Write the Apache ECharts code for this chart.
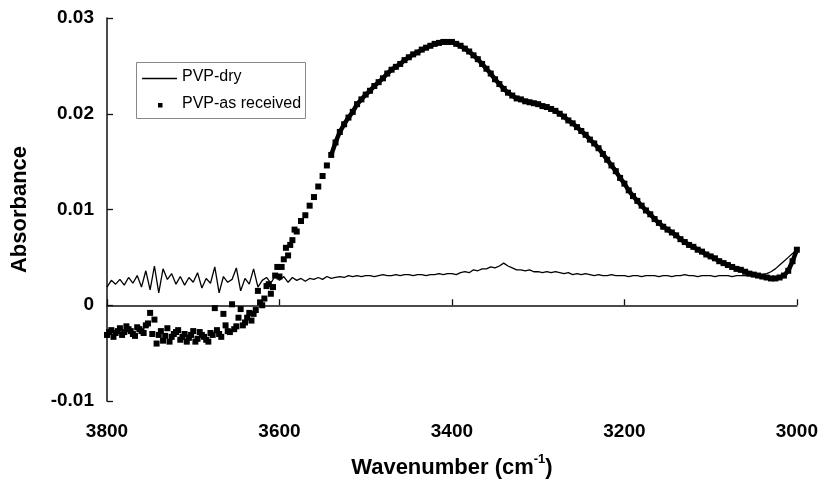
<!DOCTYPE html>
<html>
<head>
<meta charset="utf-8">
<script src="https://cdn.jsdelivr.net/npm/echarts@6/dist/echarts.min.js"></script>
<style>
html,body{margin:0;padding:0;background:#fff;}
#chart{width:821px;height:486px;}
</style>
</head>
<body>
<div id="chart"></div>
<script>
// Wavenumber sampling (cm-1), rows of 10
const wavenumber = [
  3800,3795,3790,3785,3780,3775,3770,3765,3760,3755,
  3750,3745,3740,3735,3730,3725,3720,3715,3710,3705,
  3700,3695,3690,3685,3680,3675,3670,3665,3660,3655,
  3650,3645,3640,3635,3630,3625,3620,3615,3610,3605,
  3600,3595,3590,3585,3580,3575,3570,3565,3560,3555,
  3550,3545,3540,3535,3530,3525,3520,3515,3510,3505,
  3500,3495,3490,3485,3480,3475,3470,3465,3460,3455,
  3450,3445,3440,3435,3430,3425,3420,3415,3410,3405,
  3400,3395,3390,3385,3380,3375,3370,3365,3360,3355,
  3350,3345,3340,3335,3330,3325,3320,3315,3310,3305,
  3300,3295,3290,3285,3280,3275,3270,3265,3260,3255,
  3250,3245,3240,3235,3230,3225,3220,3215,3210,3205,
  3200,3195,3190,3185,3180,3175,3170,3165,3160,3155,
  3150,3145,3140,3135,3130,3125,3120,3115,3110,3105,
  3100,3095,3090,3085,3080,3075,3070,3065,3060,3055,
  3050,3045,3040,3035,3030,3025,3020,3015,3010,3005,
  3000
];

// PVP-dry absorbance (thin line)
const pvpDry = [
  0.0019,0.0026,0.0022,0.0027,0.0021,0.0029,0.0023,0.0031,0.0019,0.0036,
  0.0016,0.0041,0.0013,0.0038,0.0027,0.0033,0.0022,0.0030,0.0021,0.0029,
  0.0024,0.0034,0.0018,0.0028,0.0023,0.0040,0.0013,0.0030,0.0024,0.0027,
  0.0039,0.0015,0.0028,0.0022,0.0038,0.0019,0.0026,0.0029,0.0023,0.0031,
  0.0026,0.0030,0.0024,0.0029,0.0026,0.0028,0.0025,0.0028,0.0027,0.0029,
  0.0027,0.0030,0.0028,0.0029,0.0030,0.0029,0.0031,0.0030,0.0031,0.0030,
  0.0031,0.0031,0.0030,0.0031,0.0032,0.0031,0.0031,0.0032,0.0031,0.0032,
  0.0032,0.0031,0.0032,0.0032,0.0031,0.0032,0.0032,0.0033,0.0032,0.0033,
  0.0033,0.0032,0.0034,0.0035,0.0034,0.0037,0.0036,0.0038,0.0038,0.0040,
  0.0039,0.0041,0.0044,0.0041,0.0039,0.0037,0.0037,0.0036,0.0037,0.0035,
  0.0035,0.0034,0.0035,0.0034,0.0035,0.0034,0.0033,0.0034,0.0032,0.0033,
  0.0032,0.0033,0.0032,0.0031,0.0032,0.0031,0.0031,0.0032,0.0031,0.0031,
  0.0031,0.0030,0.0031,0.0031,0.0030,0.0031,0.0031,0.0031,0.0030,0.0031,
  0.0031,0.0030,0.0031,0.0031,0.0032,0.0031,0.0031,0.0030,0.0031,0.0031,
  0.0031,0.0030,0.0031,0.0031,0.0031,0.0030,0.0031,0.0031,0.0031,0.0031,
  0.0031,0.0031,0.0032,0.0033,0.0035,0.0038,0.0042,0.0046,0.0050,0.0054,
  0.0058
];

// PVP-as received absorbance (square markers) on the main sampling
const pvpReceived = [
  -0.0031,-0.0026,-0.0029,-0.0024,-0.0028,-0.0025,-0.0030,-0.0023,-0.0027,-0.0021,
  -0.0008,-0.0015,-0.0031,-0.0037,-0.0024,-0.0033,-0.0028,-0.0036,-0.0030,-0.0034,
  -0.0027,-0.0035,-0.0031,-0.0036,-0.0029,-0.0003,-0.0030,-0.0009,-0.0027,0.0001,
  -0.0022,-0.0004,-0.0018,-0.0008,-0.0009,0.0015,0.0000,0.0020,0.0012,0.0031,
  0.0030,0.0048,0.0052,0.0068,0.0077,0.0088,0.0094,0.0104,0.0113,0.0124,
  0.0135,0.0146,0.0157,0.0170,0.0181,0.0189,0.0196,0.0202,0.0210,0.0215,
  0.0220,0.0224,0.0229,0.0233,0.0237,0.0242,0.0246,0.0249,0.0252,0.0256,
  0.0259,0.0262,0.0264,0.0267,0.0269,0.0271,0.0273,0.0274,0.0275,0.0275,
  0.0275,0.0273,0.0271,0.0268,0.0265,0.0261,0.0257,0.0252,0.0247,0.0242,
  0.0236,0.0231,0.0226,0.0222,0.0219,0.0216,0.0215,0.0213,0.0212,0.0211,
  0.0210,0.0208,0.0207,0.0205,0.0203,0.0200,0.0197,0.0193,0.0190,0.0186,
  0.0182,0.0178,0.0173,0.0169,0.0164,0.0158,0.0152,0.0146,0.0140,0.0133,
  0.0127,0.0120,0.0114,0.0109,0.0104,0.0099,0.0095,0.0090,0.0086,0.0082,
  0.0079,0.0076,0.0073,0.0069,0.0066,0.0063,0.0061,0.0058,0.0056,0.0053,
  0.0051,0.0049,0.0046,0.0044,0.0042,0.0040,0.0038,0.0037,0.0035,0.0033,
  0.0032,0.0031,0.0030,0.0029,0.0028,0.0028,0.0029,0.0031,0.0036,0.0046,
  0.0058
];

// Additional PVP-as received points in the noisy high-wavenumber region
const wavenumberExtra = [
  3797.5,3792.5,3787.5,3782.5,3777.5,3772.5,3767.5,3762.5,3757.5,3752.5,
  3747.5,3742.5,3737.5,3732.5,3727.5,3722.5,3717.5,3712.5,3707.5,3702.5,
  3697.5,3692.5,3687.5,3682.5,3677.5,3672.5,3667.5,3662.5,3657.5,3652.5,
  3647.5,3642.5,3637.5,3632.5,3627.5,3622.5,3617.5,3612.5,3607.5,3602.5,
  3597.5,3592.5,3587.5,3582.5
];
const pvpReceivedExtra = [
  -0.0028,-0.0033,-0.0027,-0.0031,-0.0022,-0.0027,-0.0032,-0.0025,-0.0029,-0.0019,
  -0.0030,-0.0040,-0.0027,-0.0032,-0.0038,-0.0030,-0.0026,-0.0033,-0.0038,-0.0031,
  -0.0038,-0.0028,-0.0033,-0.0038,-0.0031,-0.0026,-0.0033,-0.0021,-0.0028,-0.0025,
  -0.0013,-0.0021,-0.0013,-0.0016,-0.0005,0.0003,0.0007,0.0022,0.0019,0.0040,
  0.0040,0.0060,0.0063,0.0079
];

const seriesNames = ['PVP-dry', 'PVP-as received'];
const xTitle = 'Wavenumber (cm';
const xTitleSup = '-1';
const yTitle = 'Absorbance';

const FONT = '"Liberation Sans", Arial, sans-serif';
const pairs = (xs, ys) => xs.map((w, i) => [w, ys[i]]);
// index in wavenumber[] where the densely overlapping (smooth) marker run begins: 3540 cm-1
const smoothStart = wavenumber.indexOf(3540);

const chart = echarts.init(document.getElementById('chart'), null, {renderer: 'canvas'});
chart.setOption({
  backgroundColor: '#ffffff',
  animation: false,
  grid: {left: 107, right: 24, top: 18, bottom: 85},
  xAxis: {
    type: 'value', inverse: true, min: 3000, max: 3800, interval: 200,
    axisLine: {show: true, lineStyle: {color: '#111', width: 1.5}},
    axisTick: {show: true, inside: true, length: 6, lineStyle: {color: '#111', width: 1.3}},
    splitLine: {show: false},
    axisLabel: {color: '#000', fontFamily: FONT, fontWeight: 'bold', fontSize: 19, margin: 21,
      formatter: (v) => String(v)},
    name: '{a|' + xTitle + '}{s|' + xTitleSup + '}{a|)}',
    nameLocation: 'middle', nameGap: 52, nameMoveOverlap: false,
    nameTextStyle: {
      rich: {
        a: {fontFamily: FONT, fontWeight: 'bold', fontSize: 22, color: '#000', verticalAlign: 'bottom', lineHeight: 26},
        s: {fontFamily: FONT, fontWeight: 'bold', fontSize: 13, color: '#000', verticalAlign: 'top', lineHeight: 26, padding: [0, 0, 10, 0]}
      }
    }
  },
  yAxis: {
    type: 'value', min: -0.01, max: 0.03, interval: 0.01,
    axisLine: {show: true, lineStyle: {color: '#111', width: 1.5}},
    axisTick: {show: true, inside: true, length: 6, lineStyle: {color: '#111', width: 1.3}},
    splitLine: {show: false},
    axisLabel: {
      color: '#000', fontFamily: FONT, fontWeight: 'bold', fontSize: 19, margin: 13,
      formatter: (v) => String(+v.toFixed(2))
    },
    name: yTitle, nameLocation: 'middle', nameGap: 76, nameRotate: 90, nameMoveOverlap: false,
    nameTextStyle: {fontFamily: FONT, fontWeight: 'bold', fontSize: 22, color: '#000'}
  },
  series: [
    {
      name: seriesNames[1], type: 'scatter',
      data: pairs(wavenumber, pvpReceived).concat(pairs(wavenumberExtra, pvpReceivedExtra)),
      symbol: 'rect', symbolSize: 6, itemStyle: {color: '#000', opacity: 1}, z: 2
    },
    {
      // the overlapping markers of the smooth part merge into a continuous thick trace
      name: seriesNames[1], type: 'line',
      data: pairs(wavenumber, pvpReceived).slice(smoothStart),
      showSymbol: false, symbol: 'none', smooth: false,
      lineStyle: {color: '#000', width: 4.5}, z: 2
    },
    {
      name: seriesNames[0], type: 'line', data: pairs(wavenumber, pvpDry),
      showSymbol: false, symbol: 'none',
      lineStyle: {color: '#000', width: 1.3}, z: 3
    }
  ],
  graphic: [
    {type: 'rect', left: 136, top: 62, shape: {width: 169, height: 56},
     style: {fill: '#fff', stroke: '#888', lineWidth: 1}, z: 10},
    {type: 'line', shape: {x1: 142, y1: 78.5, x2: 177, y2: 78.5},
     style: {stroke: '#000', lineWidth: 1.3}, z: 11},
    {type: 'text', left: 182, top: 69, style: {text: seriesNames[0], font: '16px ' + FONT, fill: '#000'}, z: 11},
    {type: 'rect', shape: {x: 158, y: 103, width: 4.5, height: 4.5}, style: {fill: '#000'}, z: 11},
    {type: 'text', left: 182, top: 96, style: {text: seriesNames[1], font: '16px ' + FONT, fill: '#000'}, z: 11}
  ]
});
</script>
</body>
</html>
